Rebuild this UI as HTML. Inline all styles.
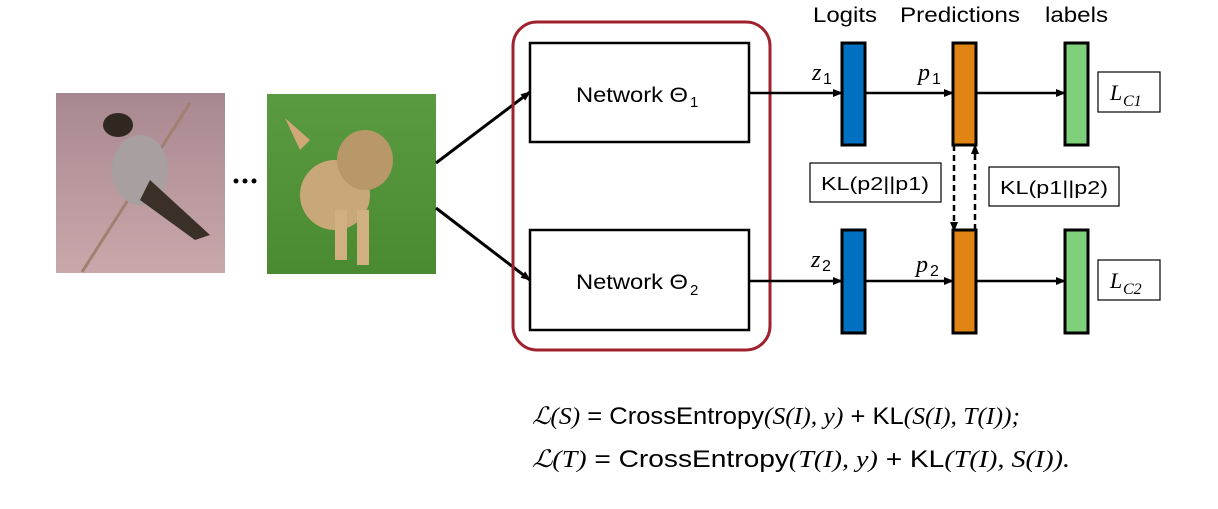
<!DOCTYPE html>
<html><head><style>
body{margin:0;width:1218px;height:504px;background:#fff;overflow:hidden}
svg text{font-family:"Liberation Sans",sans-serif}
</style></head><body>
<svg width="1218" height="504" viewBox="0 0 1218 504" xmlns="http://www.w3.org/2000/svg">
<defs>
<marker id="ah" markerWidth="10" markerHeight="8" refX="9" refY="4" orient="auto" markerUnits="userSpaceOnUse"><path d="M0,0 L10,4 L0,8 z" fill="#000"/></marker>
<linearGradient id="bg1" x1="0" y1="0" x2="0" y2="1"><stop offset="0" stop-color="#a88890"/><stop offset="1" stop-color="#c8a8aa"/></linearGradient>
<linearGradient id="bg2" x1="0" y1="0" x2="0" y2="1"><stop offset="0" stop-color="#5a9a40"/><stop offset="1" stop-color="#4a8a30"/></linearGradient>
</defs>
<rect x="56" y="93" width="169" height="180" fill="url(#bg1)"/>
<line x1="82" y1="272" x2="190" y2="103" stroke="#a08070" stroke-width="3"/>
<ellipse cx="140" cy="170" rx="28" ry="35" fill="#a8a0a0"/>
<ellipse cx="118" cy="125" rx="15" ry="12" fill="#302820"/>
<path d="M150,180 L210,235 L195,240 L140,200z" fill="#3a3028"/>
<rect x="267" y="94" width="169" height="180" fill="url(#bg2)"/>
<ellipse cx="335" cy="195" rx="35" ry="35" fill="#c8a878"/>
<ellipse cx="365" cy="160" rx="28" ry="30" fill="#b89868"/>
<rect x="335" y="210" width="12" height="50" fill="#d0b080"/>
<rect x="357" y="210" width="12" height="55" fill="#d0b080"/>
<path d="M285,118 L310,140 L300,150z" fill="#d0a878"/>
<circle cx="236" cy="181" r="2.5"/><circle cx="245" cy="181" r="2.5"/><circle cx="254" cy="181" r="2.5"/>
<line x1="436" y1="163" x2="530" y2="92" stroke="#000" stroke-width="3" marker-end="url(#ah)"/>
<line x1="436" y1="208" x2="530" y2="280" stroke="#000" stroke-width="3" marker-end="url(#ah)"/>
<rect x="513" y="22" width="257" height="328" rx="24" fill="none" stroke="#a0202e" stroke-width="3"/>
<rect x="530" y="43" width="219" height="99" fill="#fff" stroke="#000" stroke-width="2.5"/>
<rect x="530" y="230" width="219" height="100" fill="#fff" stroke="#000" stroke-width="2.5"/>
<text x="576" y="102" font-size="21" textLength="112" lengthAdjust="spacingAndGlyphs">Network Θ</text><text x="690" y="107" font-size="15">1</text>
<text x="576" y="289" font-size="21" textLength="112" lengthAdjust="spacingAndGlyphs">Network Θ</text><text x="690" y="295" font-size="15">2</text>
<text x="813" y="22" font-size="21" textLength="64" lengthAdjust="spacingAndGlyphs">Logits</text>
<text x="900" y="22" font-size="21" textLength="120" lengthAdjust="spacingAndGlyphs">Predictions</text>
<text x="1045" y="22" font-size="21" textLength="63" lengthAdjust="spacingAndGlyphs">labels</text>
<g stroke="#000" stroke-width="2.5">
<line x1="749" y1="93" x2="842" y2="93" marker-end="url(#ah)"/>
<line x1="865" y1="93" x2="953" y2="93" marker-end="url(#ah)"/>
<line x1="976" y1="93" x2="1065" y2="93" marker-end="url(#ah)"/>
<line x1="749" y1="281" x2="842" y2="281" marker-end="url(#ah)"/>
<line x1="865" y1="281" x2="953" y2="281" marker-end="url(#ah)"/>
<line x1="976" y1="281" x2="1065" y2="281" marker-end="url(#ah)"/>
<line x1="954" y1="145" x2="954" y2="231" stroke-dasharray="6,4" marker-end="url(#ah)"/>
<line x1="975" y1="230" x2="975" y2="145" stroke-dasharray="6,4" marker-end="url(#ah)"/>
</g>
<g stroke="#000" stroke-width="3">
<rect x="842" y="43" width="23" height="102" fill="#0070c0"/>
<rect x="842" y="230" width="23" height="103" fill="#0070c0"/>
<rect x="953" y="43" width="23" height="102" fill="#e08414"/>
<rect x="953" y="230" width="23" height="103" fill="#e08414"/>
<rect x="1065" y="43" width="23" height="102" fill="#7ed07a"/>
<rect x="1065" y="230" width="23" height="103" fill="#7ed07a"/>
</g>
<g font-style="italic" style="font-family:'Liberation Serif'" font-size="24">
<text x="812" y="80" style="font-family:'Liberation Serif'">z</text>
<text x="918" y="80" style="font-family:'Liberation Serif'">p</text>
<text x="811" y="267" style="font-family:'Liberation Serif'">z</text>
<text x="916" y="272" style="font-family:'Liberation Serif'">p</text>
</g>
<g font-size="16">
<text x="823" y="84">1</text><text x="932" y="84">1</text>
<text x="822" y="271">2</text><text x="930" y="276">2</text>
</g>
<g fill="#fff" stroke="#000" stroke-width="1.2">
<rect x="1098" y="72" width="62" height="40"/>
<rect x="1098" y="260" width="62" height="40"/>
<rect x="810" y="163" width="131" height="39"/>
<rect x="989" y="167" width="130" height="39"/>
</g>
<text x="1110" y="100" font-size="22" font-style="italic" style="font-family:'Liberation Serif'">L</text><text x="1123" y="106" font-size="16" font-style="italic" style="font-family:'Liberation Serif'">C1</text>
<text x="1110" y="288" font-size="22" font-style="italic" style="font-family:'Liberation Serif'">L</text><text x="1123" y="294" font-size="16" font-style="italic" style="font-family:'Liberation Serif'">C2</text>
<text x="821" y="190" font-size="18" textLength="108" lengthAdjust="spacingAndGlyphs">KL(p2||p1)</text>
<text x="1000" y="194" font-size="18" textLength="108" lengthAdjust="spacingAndGlyphs">KL(p1||p2)</text>
<text x="532" y="424" font-size="24" textLength="488" lengthAdjust="spacingAndGlyphs"><tspan font-family="Liberation Serif" font-style="italic">ℒ(S)</tspan> = CrossEntropy<tspan font-family="Liberation Serif" font-style="italic">(S(I), y)</tspan> + KL<tspan font-family="Liberation Serif" font-style="italic">(S(I), T(I));</tspan></text>
<text x="532" y="467" font-size="24" textLength="538" lengthAdjust="spacingAndGlyphs"><tspan font-family="Liberation Serif" font-style="italic">ℒ(T)</tspan> = CrossEntropy<tspan font-family="Liberation Serif" font-style="italic">(T(I), y)</tspan> + KL<tspan font-family="Liberation Serif" font-style="italic">(T(I), S(I)).</tspan></text>
</svg>
</body></html>
